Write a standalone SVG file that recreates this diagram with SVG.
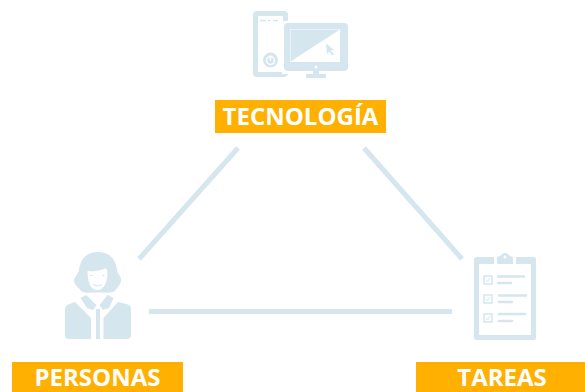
<svg xmlns="http://www.w3.org/2000/svg" width="585" height="392" viewBox="0 0 585 392">
<style>
.l{stroke:#d5e6ee;stroke-width:5;fill:none}
.f{fill:#d5e6ee}
.w{fill:#fff}
.b{fill:#ffb000}
.t{font-family:"Open Sans","Noto Sans",sans-serif;font-weight:700;font-size:24px;fill:#fff;text-anchor:middle}
.s{stroke:#d5e6ee;stroke-width:2.5;stroke-linecap:round;fill:none}
.c{fill:#fff;stroke:#d5e6ee;stroke-width:1.5}
.k{fill:none;stroke:#d5e6ee;stroke-width:1}
</style>
<rect width="585" height="392" fill="#fff"/>
<g id="connectors">
<path class="l" d="M238 148L139 259"/>
<path class="l" d="M364 148L462 259"/>
<path class="l" d="M149 311.500H452"/>
</g>
<g id="tecnologia">
<rect class="f" x="253" y="11" width="35" height="66" rx="4"/>
<rect class="w" x="258" y="16" width="25" height="56"/>
<path class="s" d="M260 20.500h6M268 20.500h2.500M273 20.500h5" style="stroke-width:1.500;stroke-linecap:butt"/>
<circle cx="270.500" cy="60" r="7.500" class="f"/>
<circle cx="270.500" cy="60.500" r="4" fill="none" stroke="#fff" stroke-width="1.500"/>
<path d="M270.500 55.500v5" stroke="#fff" stroke-width="1.500"/>
<rect class="w" x="282" y="21" width="68" height="53"/>
<rect class="f" x="284" y="23" width="64" height="48" rx="4"/>
<rect class="w" x="290" y="29" width="50" height="33"/>
<path class="f" d="M290.500 29.500H340L290.500 61.500Z"/>
<path class="f" d="M326 43.500L334 50L330.500 50.500L334 54L332 55.500L329 51.500L327 54.500Z"/>
<rect class="f" x="313" y="70" width="6" height="6"/>
<circle class="w" cx="316" cy="67" r="1.500"/>
<rect class="f" x="306" y="74" width="20" height="4" rx="1"/>
<rect class="b" x="215" y="100" width="171" height="33"/>
<text class="t" x="300.500" y="125">TECNOLOGÍA</text>
</g>
<g id="personas">
<path class="f" d="M98 252C110 252 116 260 117 270C118 275 122 277 121 281C120 286 117 287 115 291C110 294 106 292 103 292.500H93C90 292 85 294 81 291C79 287 75 286 74 281C74 277 78 275 79 270C80 260 86 252 98 252Z"/>
<path class="w" d="M87.500 271C94 272 102 270 106 268C107 270 107.500 272 107.500 274C107.500 283 103 290 97.500 290C91 290 87.500 283 87.500 271Z"/>
<path d="M93 284C95 286.500 100 286.500 102 284" stroke="#d5e6ee" stroke-width="1.200" fill="none"/>
<path d="M90 275.500h2.500M102 275.500h2.500" stroke="#d5e6ee" stroke-width="1" fill="none"/>
<path class="f" d="M68 304.500L75 302L91 318V339H68.500C66.500 339 65 337.500 65 335.500V309C65 307 66 305.500 68 304.500Z"/>
<path class="f" d="M128 304.500L118 302L103.500 318V339H127.500C129.500 339 131 337.500 131 335.500V309C131 307 130 305.500 128 304.500Z"/>
<path class="f" d="M80.500 298L86 295L96.500 305L93 310L87 308Z"/>
<path class="f" d="M113.500 298L107.500 295L99.500 305L103 310L109 308Z"/>
<rect class="f" x="96" y="309" width="4" height="30"/>
<rect class="b" x="12" y="362" width="171" height="30"/>
<text class="t" x="97.500" y="386">PERSONAS</text>
</g>
<g id="tareas">
<rect class="f" x="474" y="257" width="62" height="83" rx="2.500"/>
<rect class="w" x="479" y="264" width="52" height="71"/>
<rect class="w" x="494" y="254" width="22" height="10"/>
<path class="f" d="M497 264V258C497 256.500 499 256 501 255.500C502 253.500 504 253 505 253C506 253 508 253.500 509 255.500C511 256 513 256.500 513 258V264Z"/>
<circle class="w" cx="505" cy="257" r="1.500"/>
<rect class="c" x="484" y="276" width="8" height="8"/>
<path class="k" d="M486 280L487.500 282L490 278"/>
<path class="s" d="M498 276.500H524M498 283H511"/>
<rect class="c" x="484" y="295" width="8" height="8"/>
<path class="k" d="M486 299L487.500 301L490 297"/>
<path class="s" d="M499 295.500H526M499 302H512"/>
<rect class="c" x="484" y="314" width="8" height="8"/>
<path class="k" d="M486 318L487.500 320L490 316"/>
<path class="s" d="M499 314H525M499 321H512"/>
<rect class="b" x="416" y="362" width="169" height="30"/>
<text class="t" x="502" y="386">TAREAS</text>
</g>
</svg>
